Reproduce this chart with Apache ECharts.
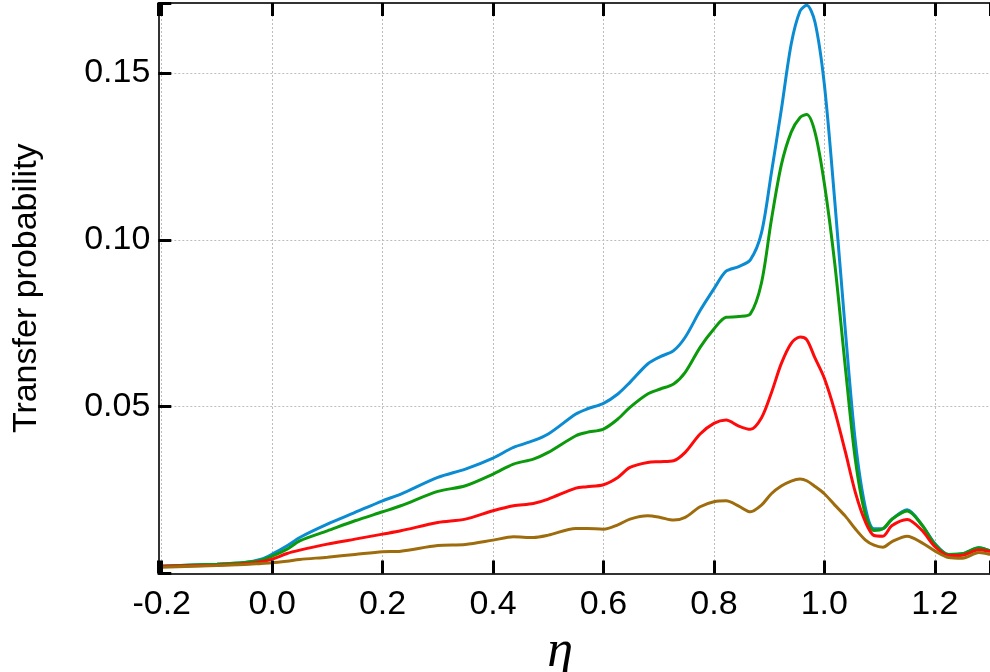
<!DOCTYPE html>
<html>
<head>
<meta charset="utf-8">
<script src="https://cdn.jsdelivr.net/npm/echarts@6/dist/echarts.min.js"></script>
<style>html,body{margin:0;padding:0;background:#fff;}#c{width:990px;height:672px;}</style>
</head>
<body>
<div id="c"></div>
<script>
const eta = [-0.2,-0.1,-0.05,-0.02,0,0.027,0.05,0.1,0.15,0.2,0.233,0.3,0.35,0.4,0.437,0.473,0.5,0.55,0.57,0.6,0.626,0.648,0.68,0.703,0.727,0.748,0.775,0.8,0.822,0.845,0.866,0.886,0.904,0.922,0.94,0.956,0.968,0.983,1.0,1.019,1.038,1.056,1.074,1.09,1.106,1.122,1.15,1.177,1.2,1.225,1.25,1.28,1.3];
const blueVals = [0.0022,0.0028,0.0033,0.0043,0.0058,0.0083,0.0108,0.0148,0.0183,0.0218,0.0238,0.0288,0.0313,0.0346,0.0378,0.0398,0.0418,0.0478,0.0493,0.051,0.0538,0.0573,0.0628,0.065,0.0668,0.0708,0.0788,0.0853,0.0906,0.092,0.094,0.102,0.120,0.1389,0.1587,0.1686,0.1703,0.1653,0.1466,0.1114,0.0729,0.0398,0.020,0.0134,0.0134,0.0162,0.0191,0.0145,0.009,0.0057,0.0059,0.0077,0.0068];
const greenVals = [0.0022,0.0028,0.0033,0.004,0.0052,0.0073,0.0098,0.0128,0.0158,0.0185,0.0203,0.0246,0.0263,0.0298,0.0328,0.0343,0.0363,0.0413,0.0423,0.0433,0.0463,0.0498,0.0538,0.0553,0.0568,0.0603,0.0678,0.0733,0.0768,0.077,0.0778,0.087,0.1059,0.1224,0.1323,0.1367,0.1376,0.1323,0.1169,0.0927,0.0618,0.0343,0.0178,0.0129,0.0134,0.0162,0.0187,0.0145,0.0088,0.0057,0.0059,0.0077,0.0068];
const redVals = [0.0022,0.0025,0.0029,0.0035,0.0043,0.006,0.007,0.0088,0.0103,0.0118,0.0128,0.0153,0.0163,0.0188,0.0203,0.021,0.0223,0.0256,0.026,0.0266,0.0288,0.0318,0.0333,0.0335,0.0338,0.0363,0.0418,0.045,0.046,0.0442,0.0432,0.0466,0.0541,0.0629,0.069,0.0709,0.0701,0.0646,0.0585,0.0486,0.0365,0.0244,0.0156,0.0114,0.0112,0.0143,0.0162,0.0129,0.0081,0.0054,0.0055,0.0071,0.0066];
const brownVals = [0.0019,0.0024,0.0027,0.003,0.0032,0.0037,0.0042,0.0049,0.0057,0.0065,0.0067,0.0084,0.0087,0.0100,0.011,0.0108,0.0115,0.0135,0.0135,0.0133,0.0146,0.0163,0.0173,0.0168,0.016,0.0168,0.02,0.0215,0.0218,0.0202,0.0185,0.0205,0.0239,0.0262,0.0277,0.0283,0.0278,0.0261,0.0239,0.0205,0.0172,0.0134,0.0101,0.0085,0.0079,0.0095,0.0112,0.0092,0.0068,0.0048,0.0046,0.0063,0.0057];
const xTicks = [-0.2,0,0.2,0.4,0.6,0.8,1.0,1.2];
const yTicks = [0.05,0.10,0.15];

const seriesDefs = [
  {name:'blue', color:'#0a8bd2', vals: blueVals},
  {name:'green', color:'#0b9a0b', vals: greenVals},
  {name:'red', color:'#ff0a0a', vals: redVals},
  {name:'brown', color:'#9e6c0c', vals: brownVals}
];

function aline(){ return {show:true, onZero:false, lineStyle:{color:'#333', width:2}}; }
function tick(){ return {show:true, inside:true, length:13, lineStyle:{color:'#000', width:3}}; }
function gridLine(){ return {show:true, lineStyle:{color:'#bdbdbd', width:1, type:[2,2]}}; }
const chart = echarts.init(document.getElementById('c'), null, {renderer:'canvas'});

const lineSeries = seriesDefs.map(s=>({
  name:s.name, type:'line', xAxisIndex:0, yAxisIndex:0,
  data: eta.map((x,i)=>[x, s.vals[i]]),
  smooth:0.3, showSymbol:false, symbol:'none',
  lineStyle:{color:s.color, width:3},
  clip:true, z:2
}));

chart.setOption({
  animation:false,
  grid:{left:158.3, right:0, top:3, bottom:98.5, containLabel:false, outerBoundsMode:'none'},
  xAxis:[{
    type:'value', min:-0.2062, max:1.3, splitNumber:8, z:5,
    name:'η', nameLocation:'middle', nameGap:30,
    nameTextStyle:{fontFamily:'Liberation Serif', fontStyle:'italic', fontSize:52, color:'#000', padding:[0,28,0,0]},
    axisLine:aline(),
    axisTick:tick(),
    axisLabel:{customValues:xTicks, margin:14, fontFamily:'Liberation Sans', fontSize:34, color:'#000',
      formatter:v=>v.toFixed(1)},
    splitLine:{show:false}
  },{
    type:'value', min:-0.2062, max:1.3, splitNumber:8, position:'top', z:5,
    axisLine:aline(),
    axisTick:tick(),
    axisLabel:{show:false},
    splitLine:{show:false}
  },{
    type:'value', min:-0.2062, max:1.3, splitNumber:8, position:'bottom', z:0,
    axisLine:{show:false}, axisTick:{show:false}, axisLabel:{show:false},
    splitLine:gridLine()
  }],
  yAxis:[{
    type:'value', min:0, max:0.171, interval:0.05, z:5,
    name:'Transfer probability', nameLocation:'middle', nameGap:115, nameRotate:90,
    nameTextStyle:{fontFamily:'Liberation Sans', fontSize:34, color:'#000'},
    axisLine:aline(),
    axisTick:tick(),
    axisLabel:{customValues:yTicks, margin:8, fontFamily:'Liberation Sans', fontSize:34, color:'#000',
      formatter:v=>v.toFixed(2)},
    splitLine:{show:false}
  },{
    type:'value', min:0, max:0.171, interval:0.05, position:'right', z:0,
    axisLine:{show:false}, axisTick:{show:false}, axisLabel:{show:false},
    splitLine:gridLine()
  }],
  series: lineSeries
});
</script>
</body>
</html>
